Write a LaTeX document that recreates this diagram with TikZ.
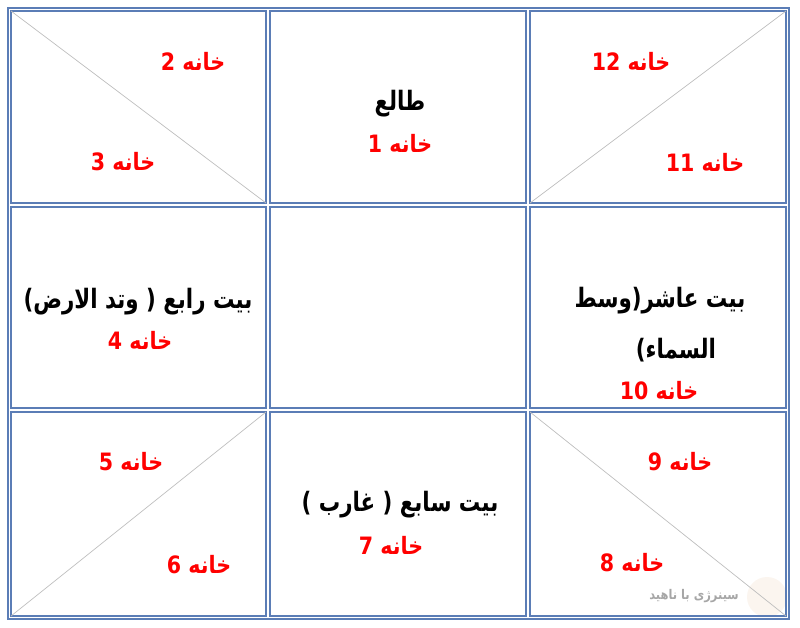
\documentclass[tikz,border=0pt]{standalone}
\usepackage{fontspec}
\usepackage{xcolor}
\usepackage{tikz}
\TeXXeTstate=1
\newfontfamily\arabicnarrow[Script=Arabic, FakeStretch=0.8]{DejaVu Sans}
\newfontfamily\arabichouse[Script=Arabic, FakeStretch=0.86]{DejaVu Sans}
\definecolor{gridblue}{HTML}{5B7DB6}
\definecolor{housered}{HTML}{FF0000}
\definecolor{diaggray}{HTML}{BEBEBE}
\definecolor{markgray}{HTML}{A6A6A6}
\definecolor{markfill}{HTML}{FBF5EF}

\begin{document}
\begin{tikzpicture}[
      x=0.025cm, y=-0.025cm,
      every node/.style={inner sep=0pt, outer sep=0pt},
      frame_line/.style={draw=gridblue, line width=1.3pt},
      cell_box/.style={draw=gridblue, line width=1pt},
      diag_line/.style={draw=diaggray, line width=0.5pt},
      house_text/.style={font=\arabichouse\bfseries\fontsize{17}{20}\selectfont, text=housered},
      sign_text/.style={font=\arabicnarrow\bfseries\fontsize{19}{22}\selectfont, text=black},
      mark_text/.style={font=\arabichouse\bfseries\fontsize{9.5}{12}\selectfont, text=markgray}
  ]
      \useasboundingbox (0,0) rectangle (800,628);

      % Watermark (Bottom Right, behind the grid)
      \fill[markfill] (767,597) circle (20);
      \node[mark_text] (mark) at (694,596) {\beginR سینرژی با ناهید\endR};

      % Table frame
      \draw[frame_line] (8,8) rectangle (789,619);

      % Top row
      \draw[cell_box] (11,11) rectangle (266,203);
      \draw[cell_box] (270,11) rectangle (526,203);
      \draw[cell_box] (530,11) rectangle (786,203);
      \draw[diag_line] (11,11) -- (266,203);
      \draw[diag_line] (530,203) -- (786,11);

      % Middle row
      \draw[cell_box] (11,207) rectangle (266,408);
      \draw[cell_box] (270,207) rectangle (526,408);
      \draw[cell_box] (530,207) rectangle (786,408);

      % Bottom row
      \draw[cell_box] (11,412) rectangle (266,616);
      \draw[cell_box] (270,412) rectangle (526,616);
      \draw[cell_box] (530,412) rectangle (786,616);
      \draw[diag_line] (11,616) -- (266,412);
      \draw[diag_line] (530,412) -- (786,616);

      % Houses 1--3 and 11--12
      \node[sign_text] (ascendant) at (400,104) {\beginR طالع\endR};
      \node[house_text] (h1) at (400,143) {\beginR خانه 1\endR};
      \node[house_text] (h2) at (193,61) {\beginR خانه 2\endR};
      \node[house_text] (h3) at (123,162) {\beginR خانه 3\endR};
      \node[house_text] (h12) at (631,61) {\beginR خانه \beginL 12\endL\endR};
      \node[house_text] (h11) at (705,162) {\beginR خانه \beginL 11\endL\endR};

      % Houses 4 and 10
      \node[sign_text] (fourth) at (138,302) {\beginR بیت رابع ( وتد الارض)\endR};
      \node[house_text] (h4) at (140,340) {\beginR خانه 4\endR};
      \node[sign_text] (tenth_a) at (660,301) {\beginR بیت عاشر(وسط\endR};
      \node[sign_text] (tenth_b) at (676,350) {\beginR السماء)\endR};
      \node[house_text] (h10) at (659,391) {\beginR خانه \beginL 10\endL\endR};

      % Houses 5--9
      \node[house_text] (h5) at (131,462) {\beginR خانه 5\endR};
      \node[house_text] (h6) at (199,565) {\beginR خانه 6\endR};
      \node[sign_text] (seventh) at (400,505) {\beginR بیت سابع ( غارب )\endR};
      \node[house_text] (h7) at (391,545) {\beginR خانه 7\endR};
      \node[house_text] (h9) at (680,462) {\beginR خانه 9\endR};
      \node[house_text] (h8) at (632,563) {\beginR خانه 8\endR};
  \end{tikzpicture}
\end{document}
